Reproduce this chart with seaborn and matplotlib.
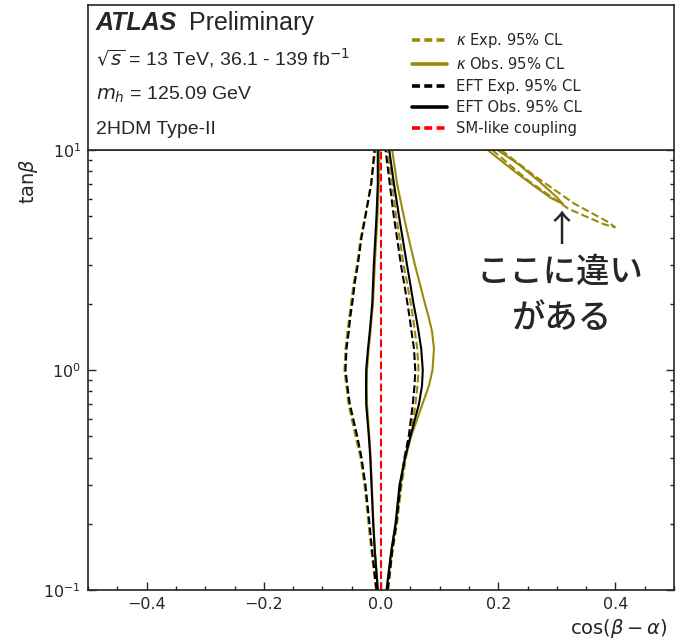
import matplotlib
matplotlib.use("Agg")
import matplotlib.pyplot as plt
from matplotlib.lines import Line2D
from matplotlib.ticker import MultipleLocator
import seaborn as sns

# tan(beta) sampling of the 95% CL contour boundaries around cos(beta-alpha) = 0
tanb = [0.1, 0.15, 0.2, 0.3, 0.4, 0.5, 0.7, 0.85, 1.0, 1.25, 1.5, 1.75, 2, 2.5, 3, 4, 5, 7, 10]

# left boundaries (negative cos(beta-alpha))
eft_exp_lo = [-0.0077, -0.0150, -0.0196, -0.0265, -0.0333, -0.0406, -0.0532, -0.0575, -0.0606, -0.0589,
              -0.0549, -0.0524, -0.0491, -0.0447, -0.0396, -0.0333, -0.0265, -0.0167, -0.0111]
kap_exp_lo = [-0.0085, -0.0162, -0.0213, -0.0282, -0.0350, -0.0435, -0.0555, -0.0592, -0.0623, -0.0606,
              -0.0572, -0.0541, -0.0512, -0.0464, -0.0410, -0.0345, -0.0273, -0.0171, -0.0094]
eft_obs_lo = [-0.0055, -0.0106, -0.0133, -0.0162, -0.0183, -0.0208, -0.0253, -0.0256, -0.0253, -0.0222,
              -0.0191, -0.0169, -0.0150, -0.0135, -0.0123, -0.0097, -0.0077, -0.0055, -0.0055]
kap_obs_lo = [-0.0051, -0.0102, -0.0128, -0.0157, -0.0176, -0.0200, -0.0239, -0.0242, -0.0239, -0.0210,
              -0.0179, -0.0157, -0.0137, -0.0119, -0.0106, -0.0080, -0.0060, -0.0038, -0.0026]

# right boundaries (positive cos(beta-alpha))
eft_exp_hi = [0.0116, 0.0191, 0.0259, 0.0333, 0.0401, 0.0474, 0.0543, 0.0572, 0.0585, 0.0563,
              0.0520, 0.0486, 0.0452, 0.0392, 0.0341, 0.0273, 0.0218, 0.0150, 0.0077]
kap_exp_hi = [0.0119, 0.0196, 0.0273, 0.0350, 0.0427, 0.0503, 0.0589, 0.0623, 0.0640, 0.0619,
              0.0577, 0.0543, 0.0508, 0.0445, 0.0385, 0.0318, 0.0259, 0.0191, 0.0106]
eft_obs_hi = [0.0094, 0.0174, 0.0247, 0.0316, 0.0410, 0.0503, 0.0648, 0.0700, 0.0713, 0.0686,
              0.0640, 0.0597, 0.0555, 0.0495, 0.0444, 0.0367, 0.0307, 0.0222, 0.0140]
kap_obs_hi = [0.0099, 0.0179, 0.0256, 0.0333, 0.0418, 0.0515, 0.0708, 0.0819, 0.0879, 0.0904,
              0.0870, 0.0811, 0.0751, 0.0657, 0.0580, 0.0469, 0.0389, 0.0276, 0.0191]

# kappa-framework "wrong-sign" slivers at large cos(beta-alpha)
kap_obs_wing_a_x = [0.182, 0.22, 0.26, 0.29, 0.31]
kap_obs_wing_a_y = [10, 8.3, 6.9, 6.05, 5.7]
kap_obs_wing_b_x = [0.199, 0.235, 0.27, 0.30, 0.31]
kap_obs_wing_b_y = [10, 8.6, 7.2, 6.1, 5.7]
kap_exp_wing_a_x = [0.19, 0.25, 0.32, 0.38, 0.40]
kap_exp_wing_a_y = [10, 7.3, 5.4, 4.6, 4.45]
kap_exp_wing_b_x = [0.205, 0.26, 0.33, 0.385, 0.40]
kap_exp_wing_b_y = [10, 7.7, 5.7, 4.75, 4.45]

sm_x = [0.0, 0.0]
sm_y = [0.1, 10]

legend_labels = [r"$\kappa$ Exp. 95% CL", r"$\kappa$ Obs. 95% CL",
                 "EFT Exp. 95% CL", "EFT Obs. 95% CL", "SM-like coupling"]

OLIVE = "#9a8a0c"

sns.set_style("ticks")
plt.rcParams["font.family"] = ["DejaVu Sans"]
plt.rcParams["mathtext.fontset"] = "dejavusans"
plt.rcParams["axes.linewidth"] = 1.2

W, H = 681, 643
fig = plt.figure(figsize=(W / 100, H / 100), dpi=100)

def fx(px):
    return px / W

def fy(py):
    return 1 - py / H

left, right = 88, 674
ax = fig.add_axes([fx(left), fy(590), fx(right - left), (590 - 150) / H])
hdr = fig.add_axes([fx(left), fy(150), fx(right - left), (150 - 5) / H])

ax.set_yscale("log")

def draw(xs, ys, color, ls, lw=1.5):
    sns.lineplot(x=xs, y=ys, sort=False, estimator=None, ax=ax,
                 color=color, linestyle=ls, linewidth=lw)

for xs, col, ls in [(kap_exp_lo, OLIVE, "--"), (kap_exp_hi, OLIVE, "--"),
                    (kap_obs_lo, OLIVE, "-"), (kap_obs_hi, OLIVE, "-"),
                    (eft_exp_lo, "black", "--"), (eft_exp_hi, "black", "--"),
                    (eft_obs_lo, "black", "-"), (eft_obs_hi, "black", "-")]:
    draw(xs, tanb, col, ls)

draw(kap_obs_wing_a_x, kap_obs_wing_a_y, OLIVE, "-")
draw(kap_obs_wing_b_x, kap_obs_wing_b_y, OLIVE, "-")
draw(kap_exp_wing_a_x, kap_exp_wing_a_y, OLIVE, "--")
draw(kap_exp_wing_b_x, kap_exp_wing_b_y, OLIVE, "--")

draw(sm_x, sm_y, "red", "--")

ax.set_xlim(-0.5, 0.5)
ax.set_ylim(0.1, 10)
ax.xaxis.set_major_locator(MultipleLocator(0.2))
ax.xaxis.set_minor_locator(MultipleLocator(0.05))
ax.tick_params(which="both", direction="in", top=False, right=True,
               labelsize=11.5, width=1)
ax.tick_params(which="major", length=6, pad=5)
ax.tick_params(which="minor", length=3)
ax.set_xlabel(r"cos$(\beta-\alpha)$", fontsize=14, loc="right")
ax.set_ylabel(r"tan$\beta$", fontsize=14, loc="top")
ax.xaxis.set_label_coords((668 - left) / (right - left), -0.062)
ax.yaxis.set_label_coords((40 - left) / (right - left), (590 - 158) / 440)

# header panel with experiment labels and legend
hdr.set_xticks([])
hdr.set_yticks([])
for s in hdr.spines.values():
    s.set_linewidth(1.2)

hfont = ["Liberation Sans", "DejaVu Sans"]
fig.text(fx(96), fy(23), "ATLAS", fontsize=18, fontweight="bold",
         fontstyle="italic", family=hfont, va="center", ha="left")
fig.text(fx(189), fy(23), "Preliminary", fontsize=18, family=hfont,
         va="center", ha="left")
fig.text(fx(96), fy(58), r"$\sqrt{s}$ = 13 TeV, 36.1 - 139 fb$^{-1}$",
         fontsize=14, family=hfont, va="center", ha="left")
fig.text(fx(96), fy(95), r"$m_h$ = 125.09 GeV", fontsize=14, family=hfont,
         va="center", ha="left")
fig.text(fx(96), fy(129), "2HDM Type-II", fontsize=14, family=hfont,
         va="center", ha="left")

handles = [Line2D([], [], color=OLIVE, ls=(0, (2.2, 1.2)), lw=2.6),
           Line2D([], [], color=OLIVE, ls="-", lw=2.6),
           Line2D([], [], color="black", ls=(0, (2.2, 1.2)), lw=2.6),
           Line2D([], [], color="black", ls="-", lw=2.6),
           Line2D([], [], color="red", ls=(0, (2.2, 1.2)), lw=2.6)]
fig.legend(handles, legend_labels, loc="upper left",
           bbox_to_anchor=(fx(412), fy(31)), frameon=False, fontsize=10.6,
           handlelength=2.4, handletextpad=0.6, labelspacing=0.43,
           borderpad=0, borderaxespad=0)

# callout pointing at the large-cos(beta-alpha) region
jp = ["Noto Sans CJK JP", "DejaVu Sans"]
fig.text(fx(561), fy(231), "↑", fontsize=26, family=jp, ha="center", va="center")
fig.text(fx(560), fy(272), "ここに違い", fontsize=24, family=jp,
         fontweight="medium", ha="center", va="center")
fig.text(fx(561), fy(318), "がある", fontsize=24, family=jp,
         fontweight="medium", ha="center", va="center")

fig.savefig("out.png", dpi=100)
